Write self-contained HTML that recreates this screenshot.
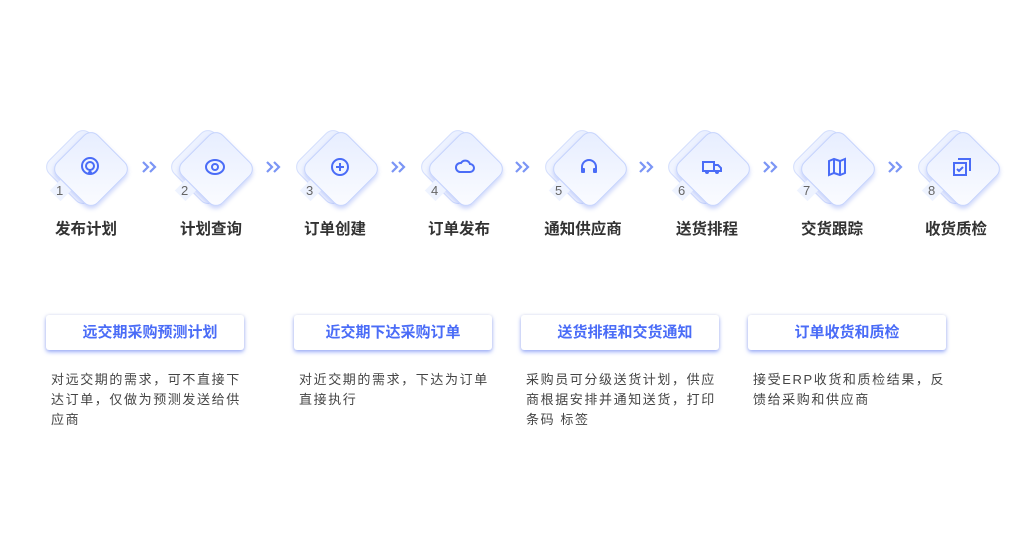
<!DOCTYPE html>
<html><head><meta charset="utf-8"><style>
body{margin:0;width:1021px;height:560px;background:#fff;font-family:"Liberation Sans","Noto Sans CJK SC",sans-serif;position:relative;overflow:hidden}
.step{position:absolute;top:127px;width:80px;height:80px}
.d{position:absolute;width:56px;height:56px;border-radius:10px;transform:rotate(45deg)}
.back{left:6px;top:11px;background:linear-gradient(135deg,#eaf0ff,#f7f9ff);border:1px solid #d3defd}
.front{left:14px;top:13px;background:linear-gradient(135deg,#e6edff,#fbfcff);border:1px solid #c5d3fd;box-shadow:2px 2px 4px rgba(90,120,240,.3)}
.sm{position:absolute;left:5px;top:56px;width:15px;height:15px;background:#eef3ff;transform:rotate(45deg)}
.num{position:absolute;left:8px;top:56px;font-size:13px;color:#666}
.ic{position:absolute;left:31px;top:29px;width:22px;height:22px}
.lbl{position:absolute;top:217px;font-size:15.5px;font-weight:bold;color:#333;width:100px;text-align:center}
.chev{position:absolute;top:160px;width:16px;height:14px}
.card{position:absolute;top:315px;width:198px;height:35px;background:#fff;border-radius:3px;box-shadow:0 2px 4px rgba(74,108,247,.55),0 0 3px rgba(0,0,0,.08);color:#4a6cf7;font-weight:bold;font-size:15px;line-height:35px;text-align:center}
.txt{position:absolute;top:370px;width:200px;font-size:13px;letter-spacing:1.6px;line-height:20px;color:#444}
</style></head><body>
<div class="step" style="left:48px"><div class="d back"></div><div class="d front"></div><div class="sm"></div><div class="num">1</div>
<svg class="ic" viewBox="0 0 22 22"><circle cx="11" cy="10" r="8" fill="none" stroke="#4a6cf7" stroke-width="2"/><circle cx="11" cy="10" r="4" fill="none" stroke="#4a6cf7" stroke-width="2"/><path d="M8 18l3-5 3 5z" fill="#4a6cf7"/></svg></div>
<div class="step" style="left:173px"><div class="d back"></div><div class="d front"></div><div class="sm"></div><div class="num">2</div>
<svg class="ic" viewBox="0 0 22 22"><ellipse cx="11" cy="11" rx="9" ry="7" fill="none" stroke="#4a6cf7" stroke-width="2"/><circle cx="11" cy="11" r="3" fill="none" stroke="#4a6cf7" stroke-width="2"/></svg></div>
<div class="step" style="left:298px"><div class="d back"></div><div class="d front"></div><div class="sm"></div><div class="num">3</div>
<svg class="ic" viewBox="0 0 22 22"><circle cx="11" cy="11" r="8" fill="none" stroke="#4a6cf7" stroke-width="2"/><path d="M11 7v8M7 11h8" stroke="#4a6cf7" stroke-width="2"/></svg></div>
<div class="step" style="left:423px"><div class="d back"></div><div class="d front"></div><div class="sm"></div><div class="num">4</div>
<svg class="ic" viewBox="0 0 22 22"><path d="M6 16h10a4 4 0 0 0 0-8 5 5 0 0 0-9-1 4.5 4.5 0 0 0-1 9z" fill="none" stroke="#4a6cf7" stroke-width="2"/></svg></div>
<div class="step" style="left:547px"><div class="d back"></div><div class="d front"></div><div class="sm"></div><div class="num">5</div>
<svg class="ic" viewBox="0 0 22 22"><path d="M4 13v-2a7 7 0 0 1 14 0v2" fill="none" stroke="#4a6cf7" stroke-width="2"/><rect x="3" y="12" width="4" height="5" rx="1" fill="#4a6cf7"/><rect x="15" y="12" width="4" height="5" rx="1" fill="#4a6cf7"/></svg></div>
<div class="step" style="left:670px"><div class="d back"></div><div class="d front"></div><div class="sm"></div><div class="num">6</div>
<svg class="ic" viewBox="0 0 22 22"><rect x="2" y="6" width="11" height="9" fill="none" stroke="#4a6cf7" stroke-width="2"/><path d="M13 9h4l3 3v3h-7z" fill="none" stroke="#4a6cf7" stroke-width="2"/><circle cx="6" cy="16" r="2" fill="#4a6cf7"/><circle cx="16" cy="16" r="2" fill="#4a6cf7"/></svg></div>
<div class="step" style="left:795px"><div class="d back"></div><div class="d front"></div><div class="sm"></div><div class="num">7</div>
<svg class="ic" viewBox="0 0 22 22"><path d="M3 5l5-2 6 2 5-2v14l-5 2-6-2-5 2z M8 3v14 M14 5v14" fill="none" stroke="#4a6cf7" stroke-width="2"/></svg></div>
<div class="step" style="left:920px"><div class="d back"></div><div class="d front"></div><div class="sm"></div><div class="num">8</div>
<svg class="ic" viewBox="0 0 22 22"><rect x="3" y="7" width="12" height="12" fill="none" stroke="#4a6cf7" stroke-width="2"/><path d="M7 3h12v12" fill="none" stroke="#4a6cf7" stroke-width="2"/><path d="M6 13l2 2 4-4" fill="none" stroke="#4a6cf7" stroke-width="2"/></svg></div>

<svg class="chev" style="left:141px" viewBox="0 0 16 14"><path d="M2 2l5 5-5 5M9 2l5 5-5 5" fill="none" stroke="#7b95f5" stroke-width="2.2"/></svg>
<svg class="chev" style="left:265px" viewBox="0 0 16 14"><path d="M2 2l5 5-5 5M9 2l5 5-5 5" fill="none" stroke="#7b95f5" stroke-width="2.2"/></svg>
<svg class="chev" style="left:390px" viewBox="0 0 16 14"><path d="M2 2l5 5-5 5M9 2l5 5-5 5" fill="none" stroke="#7b95f5" stroke-width="2.2"/></svg>
<svg class="chev" style="left:514px" viewBox="0 0 16 14"><path d="M2 2l5 5-5 5M9 2l5 5-5 5" fill="none" stroke="#7b95f5" stroke-width="2.2"/></svg>
<svg class="chev" style="left:638px" viewBox="0 0 16 14"><path d="M2 2l5 5-5 5M9 2l5 5-5 5" fill="none" stroke="#7b95f5" stroke-width="2.2"/></svg>
<svg class="chev" style="left:762px" viewBox="0 0 16 14"><path d="M2 2l5 5-5 5M9 2l5 5-5 5" fill="none" stroke="#7b95f5" stroke-width="2.2"/></svg>
<svg class="chev" style="left:887px" viewBox="0 0 16 14"><path d="M2 2l5 5-5 5M9 2l5 5-5 5" fill="none" stroke="#7b95f5" stroke-width="2.2"/></svg>

<div class="lbl" style="left:36px">发布计划</div><div class="lbl" style="left:161px">计划查询</div><div class="lbl" style="left:285px">订单创建</div><div class="lbl" style="left:409px">订单发布</div><div class="lbl" style="left:533px">通知供应商</div><div class="lbl" style="left:657px">送货排程</div><div class="lbl" style="left:782px">交货跟踪</div><div class="lbl" style="left:906px">收货质检</div>

<div class="card" style="left:46px;text-indent:10px">远交期采购预测计划</div>
<div class="card" style="left:294px">近交期下达采购订单</div>
<div class="card" style="left:521px;text-indent:10px">送货排程和交货通知</div>
<div class="card" style="left:748px">订单收货和质检</div>

<div class="txt" style="left:51px">对远交期的需求，可不直接下达订单，仅做为预测发送给供应商</div>
<div class="txt" style="left:299px">对近交期的需求，下达为订单直接执行</div>
<div class="txt" style="left:526px">采购员可分级送货计划，供应商根据安排并通知送货，打印条码 标签</div>
<div class="txt" style="left:753px">接受ERP收货和质检结果，反馈给采购和供应商</div>
</body></html>
